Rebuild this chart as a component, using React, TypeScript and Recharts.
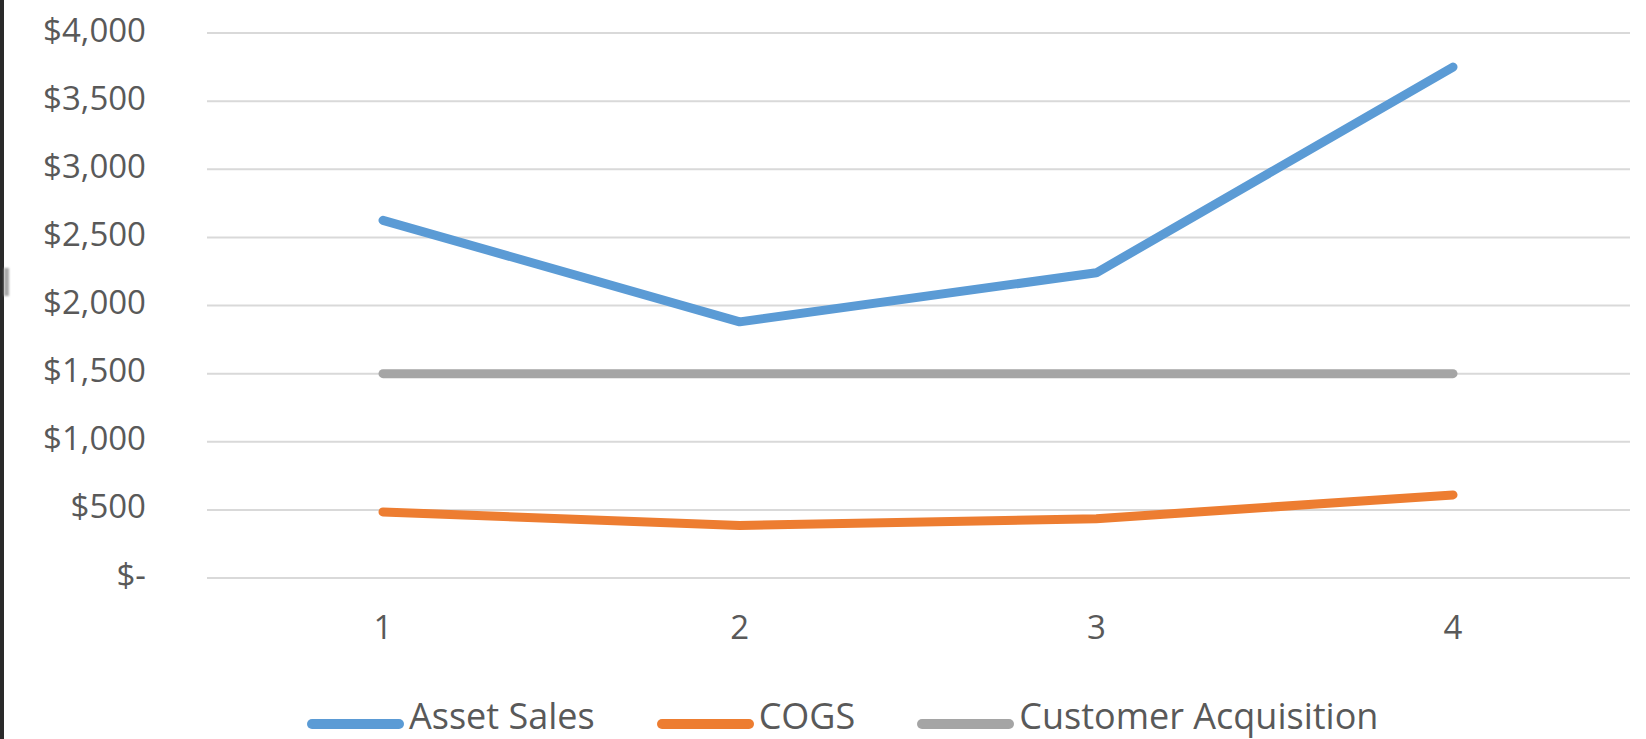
import React from 'react';
import { LineChart, Line, XAxis, YAxis, CartesianGrid, Legend } from 'recharts';

// Quarter labels on the category axis
const categories: string[] = ['1', '2', '3', '4'];

// Series values in dollars, one per quarter
const assetSales: number[] = [2625, 1880, 2240, 3750];
const cogs: number[] = [485, 385, 435, 610];
const customerAcquisition: number[] = [1500, 1500, 1500, 1500];

// Value-axis tick marks
const yTicks: number[] = [0, 500, 1000, 1500, 2000, 2500, 3000, 3500, 4000];

const series = [
  { key: 'assetSales', name: 'Asset Sales', color: '#5b9bd5' },
  { key: 'cogs', name: 'COGS', color: '#ed7d31' },
  { key: 'customerAcquisition', name: 'Customer Acquisition', color: '#a5a5a5' },
];

const data = categories.map((c, i) => ({
  period: c,
  assetSales: assetSales[i],
  cogs: cogs[i],
  customerAcquisition: customerAcquisition[i],
}));

const W = 1646;
const H = 739;
const FONT = '"Open Sans", "Noto Sans", sans-serif';
const TEXT = '#595959';
const LEGEND_H = 36;

const money = (v: number) => (v === 0 ? '$-' : '$' + v.toLocaleString('en-US'));

const YTick = (props: any) => {
  const { x, y, payload } = props;
  return (
    <text
      x={x}
      y={y - 4}
      textAnchor="end"
      dominantBaseline="central"
      fill={TEXT}
      fontSize={33}
      fontFamily={FONT}
    >
      {money(payload.value)}
    </text>
  );
};

const XTick = (props: any) => {
  const { x, y, payload } = props;
  return (
    <text
      x={x}
      y={y + 48}
      textAnchor="middle"
      dominantBaseline="central"
      fill={TEXT}
      fontSize={33}
      fontFamily={FONT}
    >
      {payload.value}
    </text>
  );
};

const LegendContent = () => (
  <div
    style={{
      display: 'flex',
      alignItems: 'flex-start',
      paddingLeft: 307,
      gap: 62,
      height: LEGEND_H,
      fontFamily: FONT,
      fontSize: 36,
      lineHeight: `${LEGEND_H}px`,
      color: TEXT,
      whiteSpace: 'nowrap',
    }}
  >
    {series.map((s) => (
      <div key={s.key} style={{ display: 'flex', alignItems: 'flex-start' }}>
        <span
          style={{
            display: 'inline-block',
            width: 97,
            height: 10,
            borderRadius: 5,
            background: s.color,
            marginTop: 21,
            marginRight: 5,
          }}
        />
        <span>{s.name}</span>
      </div>
    ))}
  </div>
);

export default function App() {
  return (
    <div
      style={{
        position: 'absolute',
        left: 0,
        top: 0,
        width: W,
        height: H,
        background: '#ffffff',
        overflow: 'hidden',
      }}
    >
      <div style={{ position: 'absolute', left: 0, top: 0, width: 4, height: H, background: '#2a2a2a' }} />
      <div
        style={{
          position: 'absolute',
          left: 4,
          top: 268,
          width: 5,
          height: 28,
          background: '#a8a8a8',
          filter: 'blur(1px)',
        }}
      />
      <LineChart
        width={W}
        height={H}
        data={data}
        margin={{ top: 33, right: 16, bottom: 113 - LEGEND_H, left: 0 }}
      >
        <CartesianGrid horizontal vertical={false} stroke="#d9d9d9" strokeWidth={2} />
        <XAxis
          dataKey="period"
          height={48}
          axisLine={false}
          tickLine={false}
          tickSize={0}
          tickMargin={0}
          padding={{ left: 176, right: 177 }}
          tick={<XTick />}
          interval={0}
        />
        <YAxis
          width={207}
          domain={[0, 4000]}
          ticks={yTicks}
          axisLine={false}
          tickLine={false}
          tickSize={0}
          tickMargin={61}
          tick={<YTick />}
          interval={0}
        />
        {series.map((s) => (
          <Line
            key={s.key}
            type="linear"
            dataKey={s.key}
            name={s.name}
            stroke={s.color}
            strokeWidth={9}
            strokeLinecap="round"
            strokeLinejoin="round"
            dot={false}
            activeDot={false}
            isAnimationActive={false}
          />
        ))}
        <Legend
          layout="vertical"
          align="center"
          verticalAlign="bottom"
          content={<LegendContent />}
          wrapperStyle={{ position: 'absolute', left: 0, top: 698, width: W, bottom: 'auto' }}
        />
      </LineChart>
    </div>
  );
}
